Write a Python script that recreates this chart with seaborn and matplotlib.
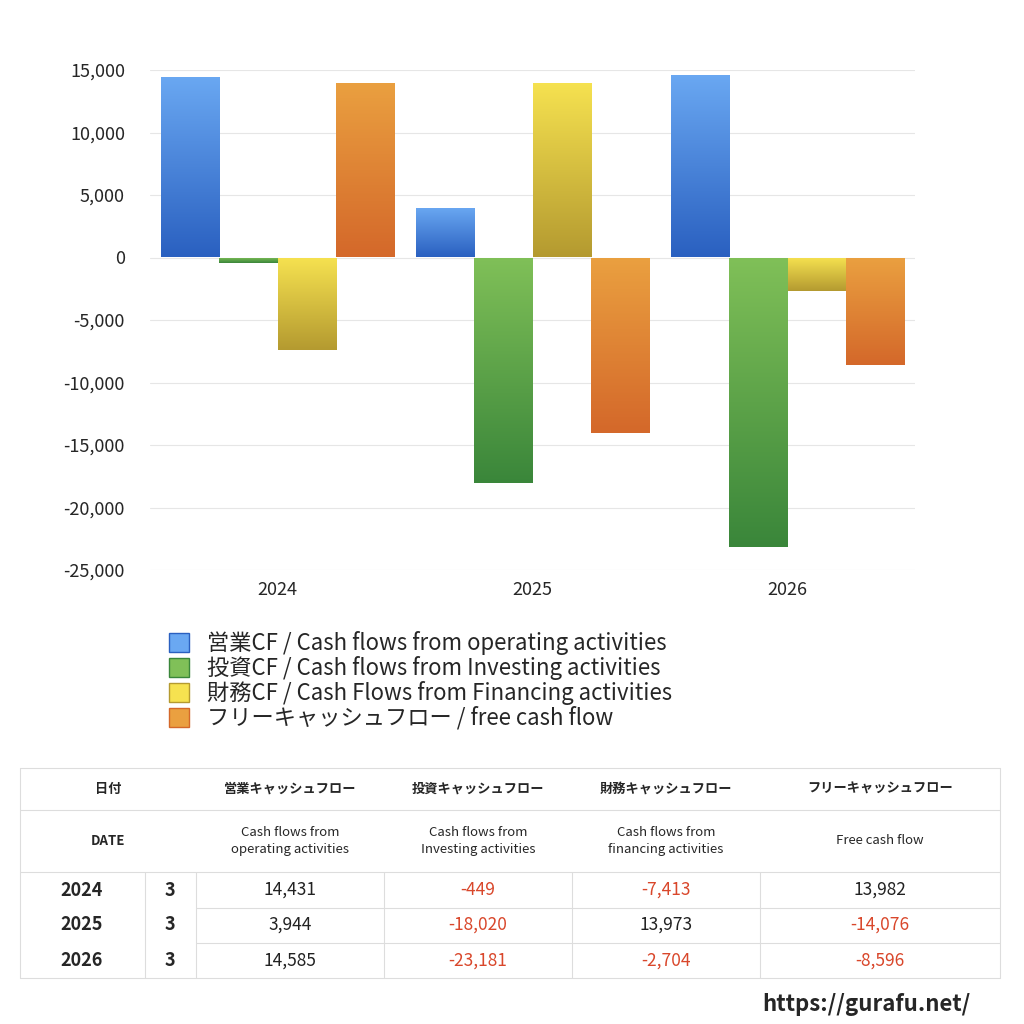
import matplotlib
matplotlib.use("Agg")
import matplotlib.pyplot as plt
import numpy as np
import pandas as pd
import seaborn as sns
from matplotlib.patches import Patch
from matplotlib.colors import LinearSegmentedColormap

years = ["2024", "2025", "2026"]
series = ["営業CF / Cash flows from operating activities",
          "投資CF / Cash flows from Investing activities",
          "財務CF / Cash Flows from Financing activities",
          "フリーキャッシュフロー / free cash flow"]
operating = [14431, 3944, 14585]
investing = [-449, -18020, -23181]
financing = [-7413, 13973, -2704]
free_cf = [13982, -14076, -8596]
months = ["3", "3", "3"]
yticks = [15000, 10000, 5000, 0, -5000, -10000, -15000, -20000, -25000]

# gradient colours: light (top) -> dark (bottom)
grads = [("#6aa8f2", "#2a60c0"), ("#80c058", "#3a863a"),
         ("#f6e250", "#b49a30"), ("#eaa040", "#d4682a")]

sns.set_theme(style="white")
plt.rcParams['font.family'] = ['Noto Sans CJK JP', 'DejaVu Sans']

rows = []
for name, vals in zip(series, [operating, investing, financing, free_cf]):
    for y, v in zip(years, vals):
        rows.append({"year": y, "series": name, "value": v})
df = pd.DataFrame(rows)

fig = plt.figure(figsize=(10.24, 10.24), dpi=100)
ax = fig.add_axes([150/1024, 1-570/1024, 765/1024, 500/1024])
sns.barplot(data=df, x="year", y="value", hue="series", ax=ax,
            width=0.91, legend=False, palette=[g[0] for g in grads])
ax.set_ylim(-25000, 15000)
ax.set_yticks(yticks)
ax.set_yticklabels([f"{t:,}" for t in yticks], fontsize=13)
ax.tick_params(axis="x", labelsize=13, length=0, pad=8)
ax.tick_params(axis="y", length=0, pad=18)
ax.set_xlabel("")
ax.set_ylabel("")
ax.yaxis.grid(True, color="#e6e6e6", lw=0.8)
ax.set_axisbelow(True)
for s in ax.spines.values():
    s.set_visible(False)

# replace flat bars with vertical gradients
for i, p in enumerate(list(ax.patches)):
    c1, c2 = grads[i // 3]
    cmap = LinearSegmentedColormap.from_list("g", [c2, c1])
    x0, w = p.get_x(), p.get_width()
    y0, h = p.get_y(), p.get_height()
    lo, hi = min(y0, y0 + h), max(y0, y0 + h)
    grad = np.linspace(0, 1, 256).reshape(-1, 1)
    im = ax.imshow(grad, cmap=cmap, origin="lower", aspect="auto",
                   extent=[x0, x0 + w, lo, hi], zorder=2)
    im.set_clip_path(p)
    p.set_alpha(0)
ax.set_xlim(-0.5, 2.5)

handles = [Patch(facecolor=g[0], edgecolor=g[1]) for g in grads]
fig.legend(handles, series, loc="upper left", bbox_to_anchor=(158/1024, 1-620/1024),
           frameon=False, fontsize=16, handlelength=0.9, handleheight=0.9,
           labelspacing=0.05, handletextpad=0.8, borderpad=0)

# table
t = fig.add_axes([0, 0, 1, 1])
t.set_xlim(0, 1024)
t.set_ylim(1024, 0)
t.axis("off")
lc = "#dddddd"
for y in [768, 810, 872, 978]:
    t.plot([20, 1000], [y, y], color=lc, lw=0.8)
for y in [908, 943]:
    t.plot([196, 1000], [y, y], color=lc, lw=0.8)
for x in [20, 1000]:
    t.plot([x, x], [768, 978], color=lc, lw=0.8)
for x in [145, 196, 384, 572, 760]:
    t.plot([x, x], [872, 978], color=lc, lw=0.8)

t.text(108, 789, "日付", ha="center", va="center", fontsize=9.5, weight="bold")
t.text(108, 841, "DATE", ha="center", va="center", fontsize=9.5, weight="bold")
heads = ["営業キャッシュフロー", "投資キャッシュフロー", "財務キャッシュフロー", "フリーキャッシュフロー"]
subs = ["Cash flows from\noperating activities", "Cash flows from\nInvesting activities",
        "Cash flows from\nfinancing activities", "Free cash flow"]
cx = [290, 478, 666, 880]
for x, h, s in zip(cx, heads, subs):
    t.text(x, 789, h, ha="center", va="center", fontsize=9.5, weight="bold")
    t.text(x, 841, s, ha="center", va="center", fontsize=9.5, linespacing=1.4)
ys = [890, 925, 961]
for r, (y, yr, m) in enumerate(zip(ys, years, months)):
    t.text(82, y, yr, ha="center", va="center", fontsize=13, weight="bold")
    t.text(170, y, m, ha="center", va="center", fontsize=13, weight="bold")
    for x, vals in zip(cx, [operating, investing, financing, free_cf]):
        v = vals[r]
        t.text(x, y, f"{v:,}", ha="center", va="center", fontsize=12.5,
               color="#d9472b" if v < 0 else "#222222")
t.text(970, 1004, "https://gurafu.net/", ha="right", va="center", fontsize=16, weight="bold")

fig.savefig("out.png", dpi=100, facecolor="white")
